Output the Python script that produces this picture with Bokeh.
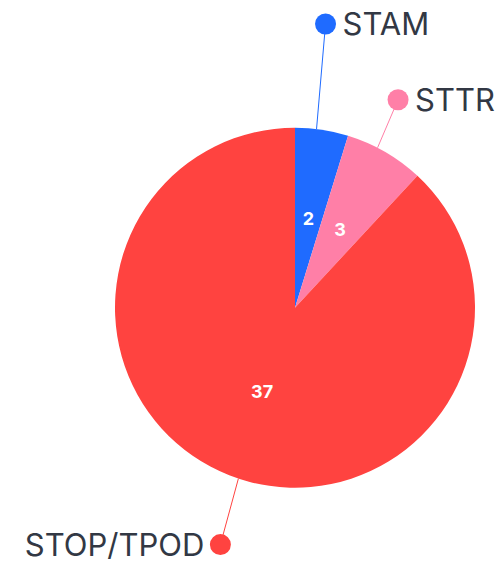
import math
from bokeh.plotting import figure
from bokeh.models import Range1d, ColumnDataSource
from bokeh.embed import file_html
from bokeh.resources import INLINE
from bokeh.core.properties import value

# ---- data ----
categories = ["STAM", "STTR", "STOP/TPOD"]
values = [2, 3, 37]
colors = ["#1f6bff", "#ff7fa7", "#ff4340"]

# ---- layout (pixels) ----
W, H = 499, 562
CX, CY = 294.5, 307.2      # pie centre measured from plot's top-left
R = 180
# per label: anchor angle shift (deg, clockwise +), dot offset from anchor (dx, dy up)
leader = {"STAM": (-1.7, 9, 105), "STTR": (-2.7, 20.5, 48), "STOP/TPOD": (-3.1, -18, -66)}
align = {"STAM": "left", "STTR": "left", "STOP/TPOD": "right"}
TEXT_GAP = 17

total = sum(values)
cum = 0.0
starts, ends, mids = [], [], []
for v in values:
    t0 = cum / total * 360.0
    cum += v
    t1 = cum / total * 360.0
    starts.append(math.radians(90 - t0))
    ends.append(math.radians(90 - t1))
    mids.append((t0 + t1) / 2.0)

p = figure(width=W, height=H, x_range=Range1d(-CX, W - CX), y_range=Range1d(CY - H, CY),
           output_backend="svg", toolbar_location=None, min_border=0)
p.axis.visible = False
p.grid.visible = False
p.outline_line_color = None
p.background_fill_color = "white"
p.border_fill_color = "white"

# leader lines + dots
ax, ay, dx_, dy_ = [], [], [], []
for c, m in zip(categories, mids):
    shift, ox, oy = leader[c]
    a = math.radians(m + shift)
    x0, y0 = R * math.sin(a), R * math.cos(a)
    ax.append(x0); ay.append(y0)
    dx_.append(x0 + ox); dy_.append(y0 + oy)

p.segment(x0=ax, y0=ay, x1=dx_, y1=dy_, line_color=colors, line_width=1)

src = ColumnDataSource(dict(start=starts, end=ends, color=colors, cat=categories, val=values))
p.wedge(x=0, y=0, radius=R, start_angle="start", end_angle="end", direction="clock",
        fill_color="color", line_color=None, source=src)

p.scatter(x=dx_, y=dy_, size=21, fill_color=colors, line_color=None)

for i, c in enumerate(categories):
    if align[c] == "left":
        tx = dx_[i] + TEXT_GAP
    else:
        tx = dx_[i] - (TEXT_GAP - 1)
    p.text(x=[tx], y=[dy_[i]], text=[c], text_font=value("Inter"), text_font_size="31px",
           text_color="#323844", text_align=align[c], text_baseline="middle")

# value labels
lx = [0.5 * R * math.sin(math.radians(m)) for m in mids]
ly = [0.5 * R * math.cos(math.radians(m)) for m in mids]
p.text(x=lx, y=ly, text=[str(v) for v in values], text_font=value("Inter"),
       text_font_size="18px", text_font_style="bold", text_color="white",
       text_align="center", text_baseline="middle")

open("out.html", "w").write(file_html(p, INLINE))
